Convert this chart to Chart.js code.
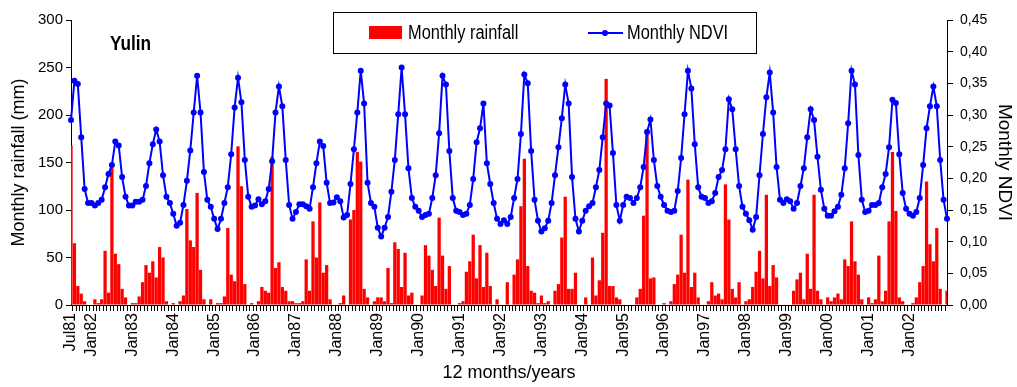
<!DOCTYPE html>
<html>
<head>
<meta charset="utf-8">
<script src="https://cdn.jsdelivr.net/npm/chart.js@4.4.1/dist/chart.umd.min.js"></script>
<style>
  html, body { margin: 0; padding: 0; background: #fff; }
  #wrap { width: 1017px; height: 387px; }
</style>
</head>
<body>
<div id="wrap"><canvas id="myChart" width="1017" height="387"></canvas></div>
<script>
// monthly series, Jul 1981 .. Dec 2002
const startYear = 1981;
const startMonth = 6; // July (0-based)
const monthNames = ['Jan','Feb','Mar','Apr','May','Jun','Jul','Aug','Sep','Oct','Nov','Dec'];

const rainfall = [
  168, 65, 20, 12, 4, 0, 0, 6, 2, 6, 57, 13,
  145, 54, 43, 17, 8, 0, 2, 2, 9, 24, 42, 34,
  46, 29, 61, 50, 4, 0, 2, 0, 4, 10, 101, 68,
  61, 118, 37, 6, 0, 6, 0, 2, 2, 9, 81, 32,
  25, 167, 125, 22, 0, 2, 0, 4, 19, 15, 13, 156,
  39, 45, 19, 15, 4, 4, 2, 2, 4, 48, 15, 88,
  50, 108, 34, 42, 6, 0, 0, 2, 10, 0, 90, 100,
  161, 151, 17, 8, 0, 4, 8, 8, 4, 39, 2, 66,
  59, 19, 55, 10, 13, 0, 0, 10, 63, 52, 37, 20,
  92, 52, 17, 41, 0, 0, 2, 4, 35, 46, 74, 28,
  63, 19, 55, 20, 0, 6, 0, 0, 24, 0, 32, 48,
  104, 154, 41, 15, 13, 2, 10, 2, 4, 0, 15, 22,
  71, 114, 17, 17, 34, 0, 0, 8, 0, 50, 10, 26,
  76, 238, 20, 20, 8, 6, 0, 0, 0, 0, 8, 17,
  94, 185, 28, 29, 0, 0, 2, 0, 4, 22, 32, 74,
  34, 132, 19, 34, 8, 0, 0, 4, 24, 10, 12, 6,
  127, 90, 17, 8, 24, 0, 4, 6, 19, 35, 57, 28,
  116, 20, 42, 29, 0, 0, 0, 0, 15, 27, 34, 6,
  54, 17, 116, 15, 6, 0, 8, 4, 8, 12, 6, 48,
  41, 88, 46, 32, 6, 0, 8, 2, 6, 52, 4, 15,
  88, 161, 99, 8, 4, 0, 0, 2, 8, 24, 41, 130,
  64, 46, 81, 17, 0, 15
];

const ndvi = [
  0.292, 0.354, 0.349, 0.265, 0.183, 0.161, 0.161, 0.157, 0.161, 0.166, 0.186, 0.207,
  0.221, 0.258, 0.252, 0.202, 0.171, 0.157, 0.157, 0.163, 0.163, 0.166, 0.188, 0.224,
  0.254, 0.277, 0.258, 0.205, 0.171, 0.161, 0.144, 0.125, 0.130, 0.158, 0.196, 0.244,
  0.304, 0.362, 0.304, 0.210, 0.166, 0.155, 0.136, 0.120, 0.136, 0.161, 0.186, 0.238,
  0.312, 0.359, 0.320, 0.229, 0.171, 0.155, 0.157, 0.167, 0.159, 0.164, 0.183, 0.227,
  0.304, 0.345, 0.314, 0.229, 0.158, 0.136, 0.147, 0.159, 0.159, 0.156, 0.152, 0.186,
  0.224, 0.258, 0.251, 0.193, 0.161, 0.162, 0.170, 0.164, 0.138, 0.142, 0.191, 0.246,
  0.304, 0.370, 0.318, 0.193, 0.161, 0.155, 0.122, 0.108, 0.122, 0.139, 0.179, 0.229,
  0.301, 0.375, 0.301, 0.216, 0.169, 0.155, 0.149, 0.139, 0.142, 0.144, 0.169, 0.205,
  0.271, 0.362, 0.348, 0.243, 0.169, 0.149, 0.147, 0.142, 0.144, 0.158, 0.199, 0.257,
  0.279, 0.318, 0.224, 0.191, 0.161, 0.136, 0.128, 0.134, 0.128, 0.139, 0.169, 0.199,
  0.270, 0.364, 0.350, 0.243, 0.166, 0.133, 0.116, 0.121, 0.133, 0.161, 0.205, 0.249,
  0.295, 0.348, 0.318, 0.202, 0.136, 0.116, 0.133, 0.149, 0.156, 0.161, 0.186, 0.213,
  0.265, 0.318, 0.315, 0.240, 0.158, 0.133, 0.158, 0.171, 0.169, 0.161, 0.169, 0.186,
  0.218, 0.273, 0.293, 0.229, 0.188, 0.171, 0.158, 0.149, 0.147, 0.149, 0.180, 0.232,
  0.301, 0.370, 0.342, 0.254, 0.186, 0.171, 0.169, 0.161, 0.164, 0.177, 0.202, 0.213,
  0.246, 0.325, 0.309, 0.246, 0.188, 0.155, 0.144, 0.134, 0.119, 0.139, 0.205, 0.270,
  0.328, 0.367, 0.304, 0.218, 0.166, 0.161, 0.167, 0.164, 0.152, 0.161, 0.188, 0.216,
  0.265, 0.309, 0.292, 0.234, 0.182, 0.152, 0.141, 0.141, 0.148, 0.155, 0.174, 0.216,
  0.287, 0.370, 0.348, 0.237, 0.166, 0.147, 0.149, 0.158, 0.158, 0.161, 0.186, 0.207,
  0.249, 0.324, 0.319, 0.238, 0.177, 0.152, 0.144, 0.141, 0.147, 0.169, 0.221, 0.279,
  0.314, 0.345, 0.314, 0.229, 0.166, 0.136
];

// category labels: Jul81, Aug81, ...
const categories = rainfall.map((v, i) => {
  const m = (startMonth + i) % 12;
  const y = startYear + Math.floor((startMonth + i) / 12);
  return monthNames[m] + String(y).slice(2);
});

const station = 'Yulin';
const rainColor = '#FF0000';
const ndviColor = '#0000FF';
const regular = "'Liberation Sans', Arial, sans-serif";

// text squeezed horizontally, like the narrow face of the original
function squeezedText(ctx, text, x, y, sx) {
  ctx.save();
  ctx.translate(x, y);
  ctx.scale(sx, 1);
  ctx.fillText(text, 0, 0);
  ctx.restore();
}

// station name + boxed legend drawn over the plot
const overlay = {
  id: 'overlay',
  afterDraw(chart) {
    const ctx = chart.ctx;
    const ds = chart.data.datasets;
    ctx.save();
    ctx.fillStyle = '#000';
    ctx.textBaseline = 'alphabetic';
    ctx.font = 'bold 21px ' + regular;
    squeezedText(ctx, station, 110, 50, 0.82);

    ctx.fillStyle = '#fff';
    ctx.fillRect(333.5, 12.5, 423, 41);
    ctx.strokeStyle = '#000';
    ctx.lineWidth = 1;
    ctx.strokeRect(333.5, 12.5, 423, 41);

    ctx.font = '20px ' + regular;
    ctx.fillStyle = rainColor;
    ctx.fillRect(369, 26, 33, 13);
    ctx.fillStyle = '#000';
    squeezedText(ctx, ds[1].label, 408, 39, 0.82);

    ctx.strokeStyle = ndviColor;
    ctx.lineWidth = 2;
    ctx.beginPath();
    ctx.moveTo(588, 33);
    ctx.lineTo(623, 33);
    ctx.stroke();
    ctx.fillStyle = ndviColor;
    ctx.beginPath();
    ctx.arc(605, 33, 3, 0, Math.PI * 2);
    ctx.fill();
    ctx.fillStyle = '#000';
    squeezedText(ctx, ds[0].label, 627, 39, 0.82);
    ctx.restore();
  }
};

const data = {
  labels: categories,
  datasets: [
    {
      type: 'line',
      label: 'Monthly NDVI',
      data: ndvi,
      yAxisID: 'y1',
      borderColor: ndviColor,
      backgroundColor: ndviColor,
      borderWidth: 2,
      pointRadius: 3,
      pointBorderWidth: 0,
      tension: 0,
      order: 0
    },
    {
      type: 'bar',
      label: 'Monthly rainfall',
      data: rainfall,
      yAxisID: 'y',
      backgroundColor: rainColor,
      borderWidth: 0,
      barPercentage: 0.96,
      categoryPercentage: 1.0,
      order: 1
    }
  ]
};

const config = {
  type: 'bar',
  data: data,
  options: {
    responsive: false,
    animation: false,
    layout: { padding: { top: 20, left: 0, right: 0, bottom: 0 } },
    plugins: {
      legend: { display: false },
      tooltip: { enabled: false }
    },
    scales: {
      x: {
        offset: false,
        border: { color: '#000', width: 1 },
        grid: { drawOnChartArea: false, drawTicks: true, tickLength: 6, color: '#000' },
        ticks: {
          autoSkip: false,
          minRotation: 90,
          maxRotation: 90,
          padding: 2,
          color: '#000',
          font: { family: regular, size: 16 },
          callback(value, index) {
            const lab = categories[index];
            return (index === 0 || lab.startsWith('Jan')) ? lab : '';
          }
        },
        title: {
          display: true,
          text: '12 months/years',
          color: '#000',
          font: { family: regular, size: 18 },
          padding: { top: 0, bottom: 3 }
        },
        afterFit(scale) { scale.height = 82; }
      },
      y: {
        position: 'left',
        min: 0,
        max: 300,
        border: { color: '#000', width: 1 },
        grid: { drawOnChartArea: false, drawTicks: true, tickLength: 5, color: '#000' },
        ticks: {
          stepSize: 50,
          padding: 3,
          color: '#000',
          font: { family: regular, size: 15 }
        },
        title: {
          display: true,
          text: 'Monthly rainfall (mm)',
          color: '#000',
          font: { family: regular, size: 18 },
          padding: { top: 8, bottom: 0 }
        },
        afterFit(scale) { scale.width = 71; }
      },
      y1: {
        position: 'right',
        min: 0,
        max: 0.45,
        border: { color: '#000', width: 1 },
        grid: { drawOnChartArea: false, drawTicks: true, tickLength: 6, color: '#000' },
        ticks: {
          stepSize: 0.05,
          padding: 7,
          color: '#000',
          font: { family: regular, size: 14 },
          callback(value) { return value.toFixed(2).replace('.', ','); }
        },
        title: {
          display: true,
          text: 'Monthly NDVI',
          color: '#000',
          font: { family: regular, size: 19 },
          padding: { top: 1, bottom: 0 }
        },
        afterFit(scale) { scale.width = 70; }
      }
    }
  },
  plugins: [overlay]
};

const myChart = new Chart(document.getElementById('myChart'), config);
</script>
</body>
</html>
